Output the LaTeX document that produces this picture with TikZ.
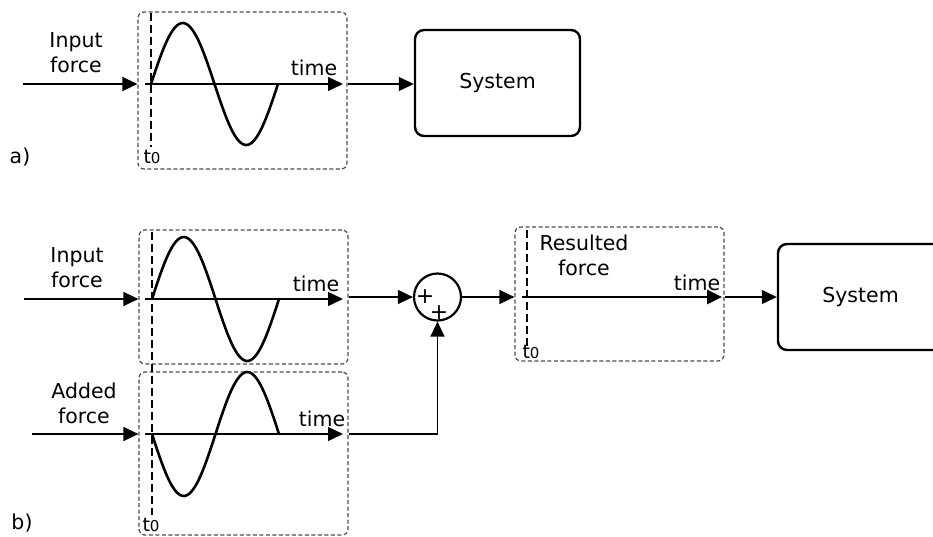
\documentclass[tikz,border=0pt]{standalone}
\usepackage{fontspec}
\setmainfont{DejaVu Sans}
\usetikzlibrary{arrows.meta}

\tikzset{
  sig/.style={-{Triangle[length=15pt,width=14pt]}, line width=1.3pt},
  frame/.style={draw=black!70, dash pattern=on 4pt off 2.5pt, rounded corners=6pt, line width=1.2pt, minimum width=209pt},
  plant/.style={draw, line width=2.4pt, rounded corners=9pt, minimum width=165pt, minimum height=106pt, font=\fontsize{20.5}{25}\selectfont},
  wave/.style={line width=2.6pt},
  start/.style={dash pattern=on 8pt off 4pt, line width=1.3pt},
  lbl/.style={align=center, font=\fontsize{20.5}{25}\selectfont},
  sign/.style={inner sep=0pt, font=\fontsize{22}{22}\selectfont},
}
\newcommand{\tzero}{t{\fontsize{15}{15}\selectfont 0}}

\begin{document}
\begin{tikzpicture}[x=1pt,y=-1pt]
\useasboundingbox (0,0) rectangle (933,536);
\clip (0,0) rectangle (933,536);

% a) input straight into the system
\node[frame, minimum height=157pt] (boxA) at (242.5,90.5) {};
\node[plant] (sysA) at (497.5,83) {System};
\coordinate (srcA) at (23,84);
\draw[start] (151,13) -- (151,147);
\draw[sig] (145,84) -- (343,84);
\draw[wave, domain=0:127, samples=60, smooth] plot ({\x+151},{84-61*sin(\x/127*360)});
\draw[sig] (srcA) -- (srcA -| boxA.west);
\draw[sig] (boxA.east |- srcA) -- (sysA.west |- srcA);
\node[lbl] (inA) at (76,53) {Input\\force};
\node[lbl] (timeA) at (314,68) {time};
\node[lbl, font=\fontsize{19}{19}\selectfont] (t0A) at (152,157) {\tzero};
\node[lbl] (capA) at (20,157) {a)};

% b) input plus added force
\node[frame, minimum height=134pt] (boxB) at (243.5,297) {};
\node[frame, minimum height=163pt] (boxC) at (243.5,453.5) {};
\node[frame, minimum height=134pt] (res) at (619.5,294) {};
\node[circle, draw, line width=2.2pt, minimum size=47pt, inner sep=0pt] (sum) at (437.5,297) {};
\node[plant] (sysB) at (860.5,297) {System};
\coordinate (srcB) at (24,299);
\coordinate (srcC) at (32,434);

\draw[start] (152,232) -- (152,515);
\draw[start] (527,230) -- (527,350);
\draw[sig] (145,299) -- (343,299);
\draw[sig] (145,434) -- (343,434);
\draw[sig, line width=2.6pt] (522,297) -- (722,297);
\draw[wave, domain=0:127, samples=60, smooth] plot ({\x+152},{299-62*sin(\x/127*360)});
\draw[wave, domain=0:127, samples=60, smooth] plot ({\x+152},{434+62*sin(\x/127*360)});

\draw[sig] (srcB) -- (srcB -| boxB.west);
\draw[sig] (srcC) -- (srcC -| boxC.west);
\draw[sig] (boxB.east |- sum) -- (sum.west);
\draw[sig] (boxC.east |- srcC) -| (sum.south);
\draw[sig] (sum.east) -- (sum -| res.west);
\draw[sig] (res.east |- sum) -- (sum -| sysB.west);

\node[sign] (plusL) at (425,297) {+};
\node[sign] (plusB) at (439,313) {+};
\node[lbl] (inB) at (77,268) {Input\\force};
\node[lbl] (addC) at (84,403) {Added\\force};
\node[lbl] (resL) at (584,255) {Resulted\\force};
\node[lbl] (timeB) at (316,284) {time};
\node[lbl] (timeC) at (322,419) {time};
\node[lbl] (timeR) at (697,283) {time};
\node[lbl, font=\fontsize{19}{19}\selectfont] (t0B) at (151,525) {\tzero};
\node[lbl, font=\fontsize{19}{19}\selectfont] (t0R) at (531,352) {\tzero};
\node[lbl] (capB) at (22,523) {b)};
\end{tikzpicture}
\end{document}
